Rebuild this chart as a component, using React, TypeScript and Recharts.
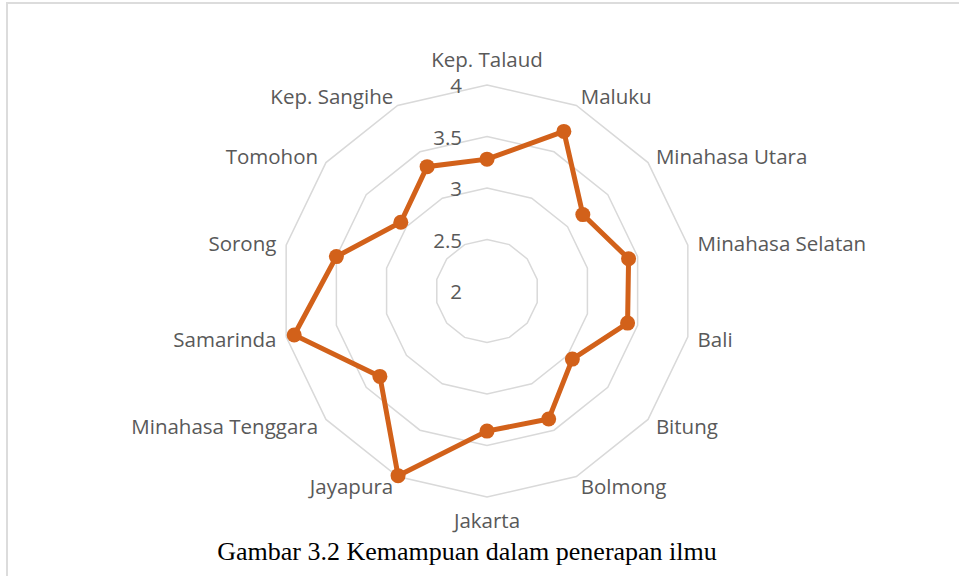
import { RadarChart, Radar, PolarGrid, PolarAngleAxis, PolarRadiusAxis } from 'recharts'

const regions = [
    'Kep. Talaud',
    'Maluku',
    'Minahasa Utara',
    'Minahasa Selatan',
    'Bali',
    'Bitung',
    'Bolmong',
    'Jakarta',
    'Jayapura',
    'Minahasa Tenggara',
    'Samarinda',
    'Sorong',
    'Tomohon',
    'Kep. Sangihe'
]

const scores = [3.28, 3.72, 3.19, 3.41, 3.4, 3.06, 3.38, 3.36, 3.99, 3.33, 3.92, 3.5, 3.07, 3.34]

const radiusTicks = [2, 2.5, 3, 3.5, 4]

const caption = 'Gambar 3.2 Kemampuan dalam penerapan ilmu'

const data = regions.map((name, i) => ({ name, value: scores[i] }))

const LABEL_COLOR = '#595959'
const LINE_COLOR = '#d2611a'
const FONT = '"Open Sans", sans-serif'

const AngleTick = (props: any) => {
    const { x, y, textAnchor, payload } = props
    let dy = 0
    if (textAnchor === 'middle') {
        const s = Math.sin((payload.coordinate * Math.PI) / 180)
        dy = s > 0 ? -16 : 13
    }
    return (
        <text
            x={x}
            y={y + dy}
            textAnchor={textAnchor}
            dominantBaseline="central"
            fill={LABEL_COLOR}
            fontSize={20.5}
            fontFamily={FONT}
        >
            {payload.value}
        </text>
    )
}

const RadiusTick = (props: any) => {
    const { x, y, payload } = props
    return (
        <text
            x={x - 25}
            y={y}
            textAnchor="end"
            dominantBaseline="central"
            fill={LABEL_COLOR}
            fontSize={20.5}
            fontFamily={FONT}
        >
            {payload.value}
        </text>
    )
}

export default function App() {
    return (
        <div style={{ position: 'fixed', left: 0, top: 0, width: 959, height: 576, background: '#fff' }}>
            {/* chart frame, only top and left edges show */}
            <div style={{ position: 'absolute', left: 6, top: 2, width: 953, height: 2, background: '#dcdcdc' }} />
            <div style={{ position: 'absolute', left: 6, top: 2, width: 2, height: 574, background: '#dcdcdc' }} />
            <RadarChart
                width={959}
                height={576}
                data={data}
                cx={487}
                cy={291}
                outerRadius={206}
                margin={{ top: 0, right: 0, bottom: 0, left: 0 }}
            >
                <PolarGrid gridType="polygon" radialLines={false} stroke="#d9d9d9" strokeWidth={1.5} />
                <PolarAngleAxis
                    dataKey="name"
                    tick={AngleTick}
                    tickLine={false}
                    axisLine={false}
                    tickSize={10}
                />
                <PolarRadiusAxis
                    angle={90}
                    domain={[2, 4]}
                    ticks={radiusTicks as any}
                    tickCount={5}
                    axisLine={false}
                    tickLine={false}
                    tick={RadiusTick}
                />
                <Radar
                    dataKey="value"
                    stroke={LINE_COLOR}
                    strokeWidth={5}
                    fill="none"
                    fillOpacity={0}
                    dot={{ r: 7.5, fill: LINE_COLOR, stroke: LINE_COLOR, strokeWidth: 0, fillOpacity: 1 }}
                    isAnimationActive={false}
                />
            </RadarChart>
            <div
                style={{
                    position: 'absolute',
                    left: 0,
                    width: 934,
                    top: 535,
                    textAlign: 'center',
                    fontFamily: '"Liberation Serif", "Times New Roman", serif',
                    fontSize: 26,
                    color: '#000',
                    lineHeight: '34px'
                }}
            >
                {caption}
            </div>
        </div>
    )
}
